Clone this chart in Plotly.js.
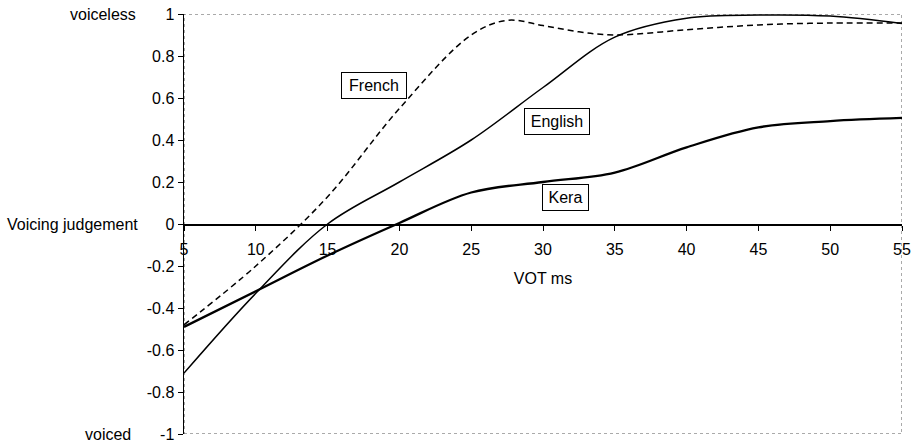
<!DOCTYPE html>
<html>
<head>
<meta charset="utf-8">
<script src="https://cdn.plot.ly/plotly-3.0.1.min.js"></script>
<style>html,body{margin:0;padding:0;background:#fff;}#chart{width:912px;height:443px;}</style>
</head>
<body>
<div id="chart"></div>
<script>
// VOT (ms) positions
var votEnglishKera = [5, 10, 15, 20, 25, 30, 35, 40, 45, 50, 55];
var english = [-0.71, -0.33, 0.0, 0.20, 0.40, 0.65, 0.89, 0.98, 0.995, 0.99, 0.955];
var kera = [-0.49, -0.32, -0.15, 0.005, 0.15, 0.20, 0.245, 0.365, 0.46, 0.49, 0.505];
var votFrench = [5, 10, 15, 20, 25, 27.5, 30, 32.5, 35, 40, 45, 50, 55];
var french = [-0.48, -0.2, 0.13, 0.55, 0.90, 0.97, 0.945, 0.915, 0.9, 0.925, 0.948, 0.957, 0.957];

var xTicks = [5, 10, 15, 20, 25, 30, 35, 40, 45, 50, 55];
var yTicks = [-1, -0.8, -0.6, -0.4, -0.2, 0, 0.2, 0.4, 0.6, 0.8, 1];
var yTickText = ['-1', '-0.8', '-0.6', '-0.4', '-0.2', '0', '0.2', '0.4', '0.6', '0.8', '1'];

var seriesLabels = ['French', 'English', 'Kera'];
var labelX = [18.2, 31.0, 31.55];
var labelY = [0.66, 0.49, 0.128];
var labelW = [58, 58, 39];

var FONT = 'Arial, "Liberation Sans", sans-serif';

var traces = [
  {x: votEnglishKera, y: english, mode: 'lines', name: 'English',
   line: {color: '#000', width: 1.5, shape: 'spline', smoothing: 1}},
  {x: votEnglishKera, y: kera, mode: 'lines', name: 'Kera',
   line: {color: '#000', width: 2.3, shape: 'spline', smoothing: 1}},
  {x: votFrench, y: french, mode: 'lines', name: 'French',
   line: {color: '#000', width: 1.5, shape: 'spline', smoothing: 1, dash: '6px,4px'}}
];

var annotations = [];
for (var i = 0; i < seriesLabels.length; i++) {
  annotations.push({
    x: labelX[i], y: labelY[i], xref: 'x', yref: 'y', text: seriesLabels[i],
    showarrow: false, bgcolor: '#fff', bordercolor: '#000', borderwidth: 1,
    borderpad: 3, width: labelW[i], height: 19,
    font: {family: FONT, size: 16, color: '#000'}
  });
}
var sideLabels = ['voiceless', 'Voicing judgement', 'voiced'];
var sideY = [1, 0, -1];
var sideShift = [-46, -44, -51];
for (var j = 0; j < sideLabels.length; j++) {
  annotations.push({
    x: 0, xref: 'paper', y: sideY[j], yref: 'y', xanchor: 'right', yanchor: 'middle',
    xshift: sideShift[j], text: sideLabels[j], showarrow: false,
    font: {family: FONT, size: 16, color: '#000'}
  });
}

var layout = {
  width: 912, height: 443,
  margin: {l: 184, r: 10, t: 14, b: 9, pad: 0},
  paper_bgcolor: '#fff', plot_bgcolor: '#fff',
  showlegend: false,
  font: {family: FONT, size: 16, color: '#000'},
  xaxis: {
    range: [5, 55], anchor: 'free', position: 0.5,
    showline: true, linecolor: '#000', linewidth: 1.5,
    showgrid: false, zeroline: false,
    ticks: 'outside', ticklen: 5, tickwidth: 1, tickcolor: '#000',
    tickvals: xTicks, ticktext: xTicks.map(String),
    ticklabeloverflow: 'allow', ticklabelstandoff: 5,
    tickfont: {family: FONT, size: 16, color: '#000'},
    title: {text: 'VOT ms', font: {family: FONT, size: 16, color: '#000'}, standoff: 16}
  },
  yaxis: {
    range: [-1, 1],
    showline: true, linecolor: '#000', linewidth: 1.5,
    showgrid: false, zeroline: false,
    ticks: 'outside', ticklen: 5, tickwidth: 1, tickcolor: '#000',
    tickvals: yTicks, ticktext: yTickText,
    tickfont: {family: FONT, size: 16, color: '#000'}
  },
  shapes: [{
    type: 'rect', xref: 'x', yref: 'y', x0: 5, x1: 55, y0: -1, y1: 1,
    line: {color: '#555', width: 1, dash: 'dot'}, layer: 'below'
  }],
  annotations: annotations
};

Plotly.newPlot('chart', traces, layout, {displayModeBar: false, staticPlot: true});
</script>
</body>
</html>
